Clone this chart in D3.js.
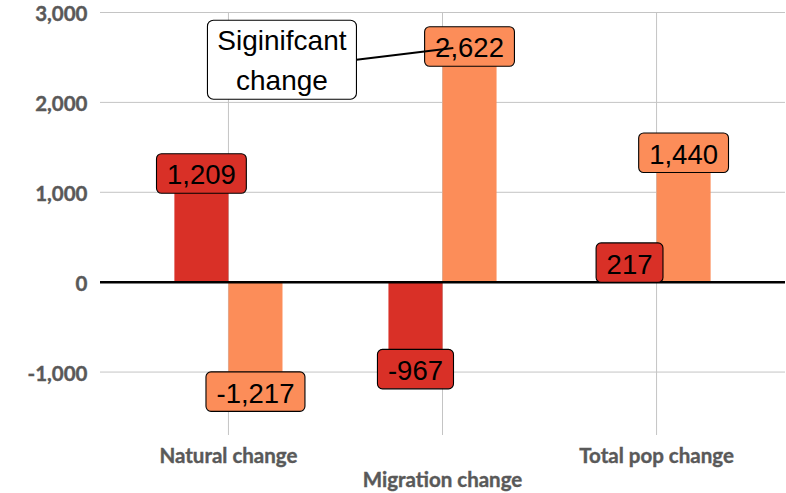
<!DOCTYPE html>
<html>
<head>
<meta charset="utf-8">
<script src="https://cdn.jsdelivr.net/npm/d3@7"></script>
<style>
  html, body { margin: 0; padding: 0; background: #ffffff; }
  svg { display: block; }
</style>
</head>
<body>
<svg id="chart" width="786" height="493"></svg>
<script>
// Population change components, two periods per category
const categories = ["Natural change", "Migration change", "Total pop change"];
const seriesNames = ["first", "second"];
const firstValues = [1209, -967, 217];
const secondValues = [-1217, 2622, 1440];
const yTicks = [-1000, 0, 1000, 2000, 3000];
const seriesColors = ["#d93027", "#fc8d59"];
const noteLines = ["Siginifcant", "change"];

const W = 786, H = 493;
const margin = { left: 100, right: 1, top: 12.5, bottom: 58 };
const svg = d3.select("#chart");

// Plain hyphen for negatives
const locale = d3.formatLocale({ decimal: ".", thousands: ",", grouping: [3], currency: ["", ""], minus: "-" });
const fmt = locale.format(",");

const x0 = d3.scaleBand()
  .domain(categories)
  .range([margin.left, W - margin.right])
  .paddingInner(0)
  .paddingOuter(0.1);

const x1 = d3.scaleBand()
  .domain(seriesNames)
  .range([0, x0.bandwidth()])
  .paddingInner(0)
  .paddingOuter(0.98);

const y = d3.scaleLinear()
  .domain([-1700, 3000])
  .range([H - margin.bottom, margin.top]);

// Rows of the table: one entry per bar
const rows = [];
categories.forEach((c, i) => {
  rows.push({ cat: c, s: "first", v: firstValues[i], color: seriesColors[0] });
  rows.push({ cat: c, s: "second", v: secondValues[i], color: seriesColors[1] });
});

const axisFont = "Lato, 'Open Sans', sans-serif";
const axisSize = "20.5px";
const axisColor = "#595959";

// Horizontal gridlines
svg.append("g")
  .selectAll("line")
  .data(yTicks.filter(t => t !== 0))
  .join("line")
  .attr("x1", x0.range()[0])
  .attr("x2", x0.range()[1])
  .attr("y1", d => y(d))
  .attr("y2", d => y(d))
  .attr("stroke", "#c4c4c4")
  .attr("stroke-width", 1);

// Vertical gridlines at category centres
svg.append("g")
  .selectAll("line")
  .data(categories)
  .join("line")
  .attr("x1", d => x0(d) + x0.bandwidth() / 2)
  .attr("x2", d => x0(d) + x0.bandwidth() / 2)
  .attr("y1", y.range()[1])
  .attr("y2", y.range()[0])
  .attr("stroke", "#c4c4c4")
  .attr("stroke-width", 1);

// Y axis labels
const yAxis = d3.axisLeft(y).tickValues(yTicks).tickFormat(fmt).tickSize(0).tickPadding(12.5);
const yAxisG = svg.append("g")
  .attr("transform", `translate(${margin.left},0)`)
  .call(yAxis);
yAxisG.select(".domain").remove();
yAxisG.selectAll("text")
  .attr("dy", "0.4em")
  .attr("fill", axisColor)
  .attr("stroke", axisColor)
  .attr("stroke-width", 0.4)
  .style("font-family", axisFont)
  .style("font-weight", "bold")
  .style("font-size", axisSize);

// Bars
svg.append("g")
  .selectAll("rect")
  .data(rows)
  .join("rect")
  .attr("x", d => x0(d.cat) + x1(d.s))
  .attr("width", x1.bandwidth())
  .attr("y", d => y(Math.max(0, d.v)))
  .attr("height", d => Math.abs(y(d.v) - y(0)))
  .attr("fill", d => d.color);

// Zero line
svg.append("line")
  .attr("x1", x0.range()[0])
  .attr("x2", x0.range()[1])
  .attr("y1", y(0))
  .attr("y2", y(0))
  .attr("stroke", "#000")
  .attr("stroke-width", 2.5);

// Category labels, middle one staggered lower
svg.append("g")
  .selectAll("text")
  .data(categories)
  .join("text")
  .attr("x", d => x0(d) + x0.bandwidth() / 2)
  .attr("y", (d, i) => i % 2 === 1 ? 487 : 463)
  .attr("text-anchor", "middle")
  .attr("fill", axisColor)
  .attr("stroke", axisColor)
  .attr("stroke-width", 0.4)
  .style("font-family", axisFont)
  .style("font-weight", "bold")
  .style("font-size", axisSize)
  .text(d => d);

// Value labels: rounded boxes centred on each bar end
const labelFont = "'Liberation Sans', Arial, sans-serif";
const labelSize = "27.5px";
const labels = svg.append("g")
  .selectAll("g")
  .data(rows)
  .join("g")
  .attr("transform", d => `translate(${x0(d.cat) + x1(d.s) + x1.bandwidth() / 2},${y(d.v)})`);

labels.each(function (d) {
  const g = d3.select(this);
  const rect = g.append("rect");
  const t = g.append("text")
    .attr("text-anchor", "middle")
    .attr("dy", "0.4em")
    .style("font-family", labelFont)
    .style("font-size", labelSize)
    .attr("fill", "#000")
    .text(fmt(d.v));
  const w = t.node().getComputedTextLength() + 21;
  const h = 39.5;
  rect.attr("x", -w / 2).attr("y", -h / 2)
    .attr("width", w).attr("height", h)
    .attr("rx", 5).attr("ry", 5)
    .attr("fill", d.color)
    .attr("stroke", "#000")
    .attr("stroke-width", 1.1);
});

// Callout pointing at the migration change jump
const noteCx = x0(categories[0]) + x0.bandwidth() * 0.75;
const noteCy = y(2475);
const noteW = 149, noteH = 79;
const note = svg.append("g");
note.append("rect")
  .attr("x", noteCx - noteW / 2)
  .attr("y", noteCy - noteH / 2)
  .attr("width", noteW)
  .attr("height", noteH)
  .attr("rx", 6).attr("ry", 6)
  .attr("fill", "#fff")
  .attr("stroke", "#000")
  .attr("stroke-width", 1.1);
note.selectAll("text")
  .data(noteLines)
  .join("text")
  .attr("x", noteCx)
  .attr("y", (d, i) => noteCy - 9.7 + i * 40)
  .attr("text-anchor", "middle")
  .style("font-family", labelFont)
  .style("font-size", "28px")
  .attr("fill", "#000")
  .text(d => d);

const target = rows.find(r => r.cat === categories[1] && r.s === "second");
const tx = x0(target.cat) + x1(target.s) + x1.bandwidth() * 0.2;
const ty = y(target.v) + 1.5;
note.append("line")
  .attr("x1", noteCx + noteW / 2)
  .attr("y1", noteCy)
  .attr("x2", tx)
  .attr("y2", ty)
  .attr("stroke", "#000")
  .attr("stroke-width", 2);
</script>
</body>
</html>
